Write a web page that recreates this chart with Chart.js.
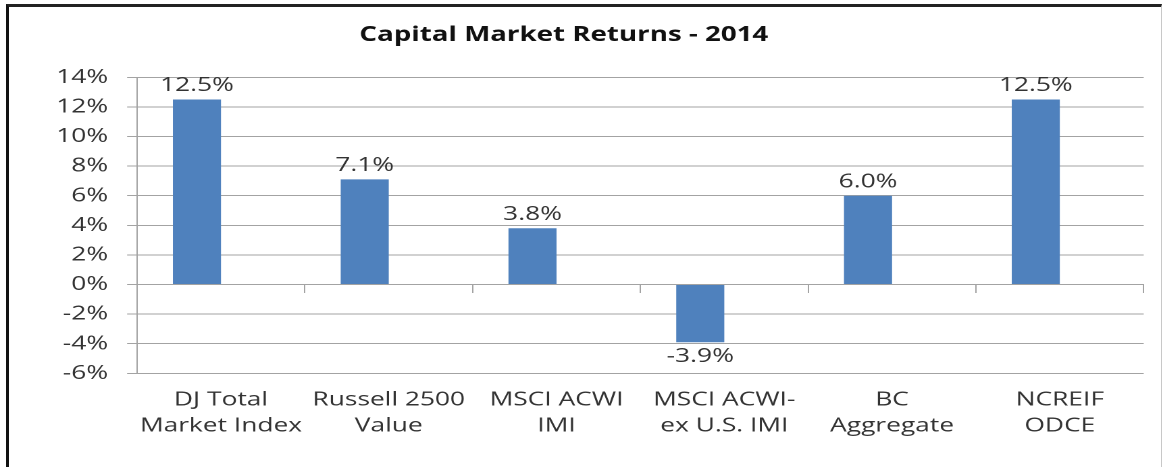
<!DOCTYPE html>
<html>
<head>
<meta charset="utf-8">
<script src="https://cdn.jsdelivr.net/npm/chart.js@4.4.1/dist/chart.umd.min.js"></script>
<style>
  html, body { margin: 0; padding: 0; background: #fff; overflow: hidden; }
  body { width: 1166px; height: 467px; position: relative; }
  #frame {
    position: absolute; left: 6px; top: 4px; width: 1152px; height: 520px;
    border-left: 3px solid #111; border-top: 3px solid #222; border-right: 1px solid #c8c8c8;
  }
  /* the original picture is stretched sideways, so the chart is drawn narrow and widened */
  #wrap {
    position: absolute; left: 0; top: 0; width: 863.7px; height: 467px;
    transform: scaleX(1.35); transform-origin: 0 0;
  }
</style>
</head>
<body>
<div id="frame"></div>
<div id="wrap"><canvas id="chart"></canvas></div>
<script>
// -------------------
// DATA
// -------------------
const TITLE = "Capital Market Returns - 2014";
const categories = [
  ["DJ Total", "Market Index"],
  ["Russell 2500", "Value"],
  ["MSCI ACWI", "IMI"],
  ["MSCI ACWI-", "ex U.S. IMI"],
  ["BC", "Aggregate"],
  ["NCREIF", "ODCE"]
];
const returns2014 = [12.5, 7.1, 3.8, -3.9, 6.0, 12.5];
// second, empty series of the original sheet (keeps the bars left of centre)
const emptySeries = [null, null, null, null, null, null];
const yMin = -6, yMax = 14, yStep = 2;

const GRID = "#a3a3a3";
const TEXT = "#333333";
const FONT = "'Open Sans', sans-serif";

// -------------------
// VALUE LABELS
// -------------------
const barLabels = {
  id: "barLabels",
  afterDatasetsDraw(chart) {
    const ctx = chart.ctx;
    const meta = chart.getDatasetMeta(0);
    ctx.save();
    ctx.font = "19.5px " + FONT;
    ctx.fillStyle = TEXT;
    ctx.textAlign = "center";
    ctx.textBaseline = "middle";
    meta.data.forEach((bar, i) => {
      const v = returns2014[i];
      const y = v >= 0 ? bar.y - 14 : bar.y + 14;
      ctx.fillText(v.toFixed(1) + "%", bar.x, y);
    });
    ctx.restore();
  }
};

// -------------------
// CHART
// -------------------
const chart = new Chart(document.getElementById("chart"), {
  type: "bar",
  data: {
    labels: categories,
    datasets: [
      { label: "2014", data: returns2014, backgroundColor: "#4f81bd",
        categoryPercentage: 0.573, barPercentage: 1, xAxisID: "x" },
      { label: "", data: emptySeries, backgroundColor: "#c0504d",
        categoryPercentage: 0.573, barPercentage: 1, xAxisID: "x" }
    ]
  },
  options: {
    responsive: true,
    maintainAspectRatio: false,
    animation: false,
    devicePixelRatio: 2,
    layout: { padding: { left: -11.9, right: 17, top: 0, bottom: 0 } },
    plugins: {
      legend: { display: false },
      tooltip: { enabled: false },
      title: {
        display: true,
        text: TITLE,
        color: "#111",
        font: { family: FONT, size: 20.5, weight: "bold", lineHeight: 1.2 },
        padding: { top: 23, bottom: 29.7 }
      }
    },
    scales: {
      x: {
        type: "category",
        position: "bottom",
        grid: { display: false, drawTicks: false },
        border: { display: false },
        ticks: {
          color: TEXT,
          font: { family: FONT, size: 19.5, lineHeight: 1.333 },
          padding: 13.7,
          maxRotation: 0,
          autoSkip: false
        },
        afterFit: s => { s.height = 93.7; }
      },
      x2: {
        type: "category",
        position: { y: 0 },
        offset: true,
        grid: { offset: true, drawOnChartArea: false, drawTicks: true, tickLength: 8, color: GRID },
        border: { display: true, color: GRID },
        ticks: { display: false }
      },
      y: {
        min: yMin,
        max: yMax,
        ticks: {
          stepSize: yStep,
          callback: v => v + "%",
          color: TEXT,
          font: { family: FONT, size: 19.5 },
          padding: 14.1
        },
        grid: { color: GRID, tickLength: 7.4, drawTicks: true },
        border: { display: true, color: GRID },
        afterFit: s => { s.width = 113.4; }
      }
    }
  },
  plugins: [barLabels]
});
</script>
</body>
</html>
